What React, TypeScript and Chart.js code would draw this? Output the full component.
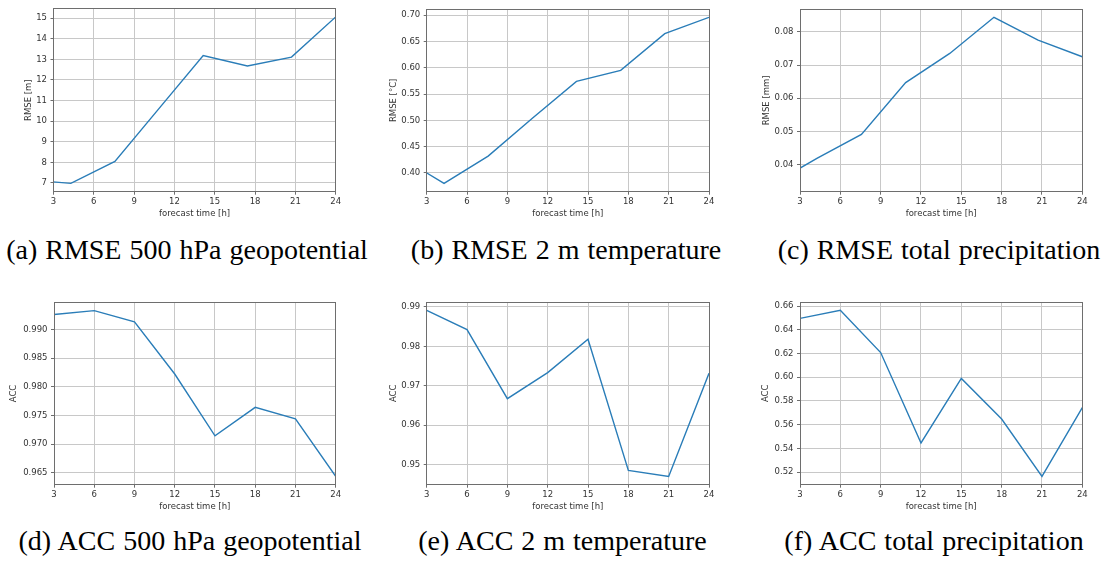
import React, { useEffect, useRef } from "react";
import { Chart, registerables } from "chart.js";

Chart.register(...registerables);

// ---------------- data ----------------
const hoursRmse = [1, 4.29, 7.57, 10.86, 14.14, 17.43, 20.71, 24];
const hoursAcc = [3, 6, 9, 12, 15, 18, 21, 24];
const xTickValues = [3, 6, 9, 12, 15, 18, 21, 24];

const rmseGeopotential = [7.16, 6.98, 8.05, 10.62, 13.18, 12.68, 13.11, 15.06];
const rmseTemperature = [0.431, 0.38, 0.432, 0.504, 0.574, 0.595, 0.665, 0.696];
const rmsePrecipitation = [0.0343, 0.0419, 0.0491, 0.0647, 0.0735, 0.0844, 0.0775, 0.0725];
const accGeopotential = [0.99259, 0.99328, 0.99132, 0.98222, 0.97145, 0.97641, 0.97439, 0.96437];
const accTemperature = [0.98915, 0.98425, 0.96674, 0.97334, 0.9818, 0.94856, 0.94704, 0.97317];
const accPrecipitation = [0.6496, 0.6564, 0.6208, 0.5446, 0.599, 0.5648, 0.5164, 0.5743];

const yTicksRmseGeo = [7, 8, 9, 10, 11, 12, 13, 14, 15];
const yTicksRmseTemp = [0.4, 0.45, 0.5, 0.55, 0.6, 0.65, 0.7];
const yTicksRmsePrec = [0.04, 0.05, 0.06, 0.07, 0.08];
const yTicksAccGeo = [0.965, 0.97, 0.975, 0.98, 0.985, 0.99];
const yTicksAccTemp = [0.95, 0.96, 0.97, 0.98, 0.99];
const yTicksAccPrec = [0.52, 0.54, 0.56, 0.58, 0.6, 0.62, 0.64, 0.66];

const yTitles = ["RMSE [m]", "RMSE [°C]", "RMSE [mm]", "ACC", "ACC", "ACC"];
const xTitle = "forecast time [h]";
const captions = [
  "(a) RMSE 500 hPa geopotential",
  "(b) RMSE 2 m temperature",
  "(c) RMSE total precipitation",
  "(d) ACC 500 hPa geopotential",
  "(e) ACC 2 m temperature",
  "(f) ACC total precipitation",
];

// ---------------- styles / layout ----------------
const LINE = "#2a7db8";
const GRID = "#c8c8c8";
const FRAME = "#6e6e6e";
const TEXT = "#333333";
const FONT = "DejaVu Sans";
const FONT_SIZE = 8.5;

const panels = [
  { hours: hoursRmse, values: rmseGeopotential, ticks: yTicksRmseGeo, dec: 0, cx: 0, cy: 0, cw: 370, ch: 225, plotL: 53.5, plotR: 335.7, plotT: 8.3, plotB: 191.7, yTitleX: 29.2, xTitleY: 213.3 },
  { hours: hoursRmse, values: rmseTemperature, ticks: yTicksRmseTemp, dec: 2, cx: 370, cy: 0, cw: 370, ch: 225, plotL: 426.7, plotR: 709, plotT: 9, plotB: 191.7, yTitleX: 394, xTitleY: 213.3 },
  { hours: hoursRmse, values: rmsePrecipitation, ticks: yTicksRmsePrec, dec: 2, cx: 740, cy: 0, cw: 371, ch: 225, plotL: 800, plotR: 1082.3, plotT: 9, plotB: 191.7, yTitleX: 766.7, xTitleY: 213.3 },
  { hours: hoursAcc, values: accGeopotential, ticks: yTicksAccGeo, dec: 3, cx: 0, cy: 290, cw: 370, ch: 230, plotL: 54, plotR: 335.7, plotT: 302.3, plotB: 484.7, yTitleX: 14, xTitleY: 506.7 },
  { hours: hoursAcc, values: accTemperature, ticks: yTicksAccTemp, dec: 2, cx: 370, cy: 290, cw: 370, ch: 230, plotL: 426.7, plotR: 709, plotT: 302, plotB: 484.7, yTitleX: 393.3, xTitleY: 506.7 },
  { hours: hoursAcc, values: accPrecipitation, ticks: yTicksAccPrec, dec: 2, cx: 740, cy: 290, cw: 371, ch: 230, plotL: 800, plotR: 1082.3, plotT: 302, plotB: 484.7, yTitleX: 766, xTitleY: 506.7 },
];

const captionPos = [
  { x: 187, y: 253 },
  { x: 566, y: 253 },
  { x: 939, y: 253 },
  { x: 190, y: 544 },
  { x: 562.5, y: 544 },
  { x: 934, y: 544 },
];
const CAPTION_SIZE = 28;

const align = (p: number) => Math.round(p - 0.5) + 0.5;

const framePlugin = {
  id: "frame",
  afterDraw(chart: any) {
    const { ctx, chartArea: a } = chart;
    ctx.save();
    ctx.strokeStyle = FRAME;
    ctx.lineWidth = 1;
    const l = align(a.left), r = align(a.right), t = align(a.top), b = align(a.bottom);
    ctx.strokeRect(l, t, r - l, b - t);
    ctx.restore();
  },
};

function Panel({ idx }: { idx: number }) {
  const ref = useRef<HTMLCanvasElement | null>(null);
  const p = panels[idx];
  useEffect(() => {
    if (!ref.current) return;
    const lh = FONT_SIZE * 1.2;
    const padLeft = p.yTitleX - lh / 2 - p.cx;
    const yWidth = p.plotL - p.cx - padLeft;
    const padTop = p.plotT - p.cy;
    const padRight = p.cx + p.cw - p.plotR;
    const xHeight = p.xTitleY + lh / 2 - p.plotB;
    const padBottom = p.cy + p.ch - (p.plotB + xHeight);
    const vmin = Math.min(...p.values);
    const vmax = Math.max(...p.values);
    const margin = (vmax - vmin) * 0.05;
    const font = { family: FONT, size: FONT_SIZE };
    const chart = new Chart(ref.current, {
      type: "line",
      data: {
        datasets: [
          {
            data: p.hours.map((h, i) => ({ x: h, y: p.values[i] })),
            borderColor: LINE,
            borderWidth: 1.4,
            pointRadius: 0,
            tension: 0,
            fill: false,
          },
        ],
      },
      options: {
        responsive: false,
        animation: false,
        devicePixelRatio: 1,
        layout: { padding: { left: padLeft, top: padTop, right: padRight, bottom: padBottom } },
        plugins: { legend: { display: false }, tooltip: { enabled: false } },
        scales: {
          x: {
            type: "linear",
            min: 3,
            max: 24,
            bounds: "data",
            afterBuildTicks: (s: any) => {
              s.ticks = xTickValues.map((v) => ({ value: v }));
            },
            afterFit: (s: any) => {
              s.height = xHeight;
            },
            grid: { color: GRID, lineWidth: 1, tickLength: 3, tickColor: FRAME, drawTicks: true },
            border: { display: false },
            ticks: { color: TEXT, font, padding: 2, maxRotation: 0, autoSkip: false, callback: (v: any) => String(v) },
            title: { display: true, text: xTitle, color: TEXT, font, padding: 0 },
          },
          y: {
            type: "linear",
            min: vmin - margin,
            max: vmax + margin,
            bounds: "data",
            afterBuildTicks: (s: any) => {
              s.ticks = p.ticks.map((v) => ({ value: v }));
            },
            afterFit: (s: any) => {
              s.width = yWidth;
            },
            grid: { color: GRID, lineWidth: 1, tickLength: 3, tickColor: FRAME, drawTicks: true },
            border: { display: false },
            ticks: { color: TEXT, font, padding: 3.5, autoSkip: false, callback: (v: any) => Number(v).toFixed(p.dec) },
            title: { display: true, text: yTitles[idx], color: TEXT, font, padding: 0 },
          },
        },
      },
      plugins: [framePlugin],
    } as any);
    return () => chart.destroy();
  }, []);
  return (
    <canvas
      ref={ref}
      width={p.cw}
      height={p.ch}
      style={{ position: "absolute", left: p.cx, top: p.cy, width: p.cw, height: p.ch }}
    />
  );
}

export default function App() {
  return (
    <div style={{ position: "absolute", left: 0, top: 0, width: 1111, height: 561, background: "#ffffff", overflow: "hidden" }}>
      {panels.map((_, i) => (
        <Panel key={i} idx={i} />
      ))}
      {captions.map((c, i) => (
        <div
          key={"c" + i}
          style={{
            position: "absolute",
            left: captionPos[i].x - 250,
            top: captionPos[i].y - CAPTION_SIZE * 0.59,
            width: 500,
            textAlign: "center",
            fontFamily: "'Liberation Serif', serif",
            fontSize: CAPTION_SIZE,
            lineHeight: 1,
            whiteSpace: "nowrap",
            color: "#000",
            wordSpacing: 1,
          }}
        >
          {c}
        </div>
      ))}
    </div>
  );
}
